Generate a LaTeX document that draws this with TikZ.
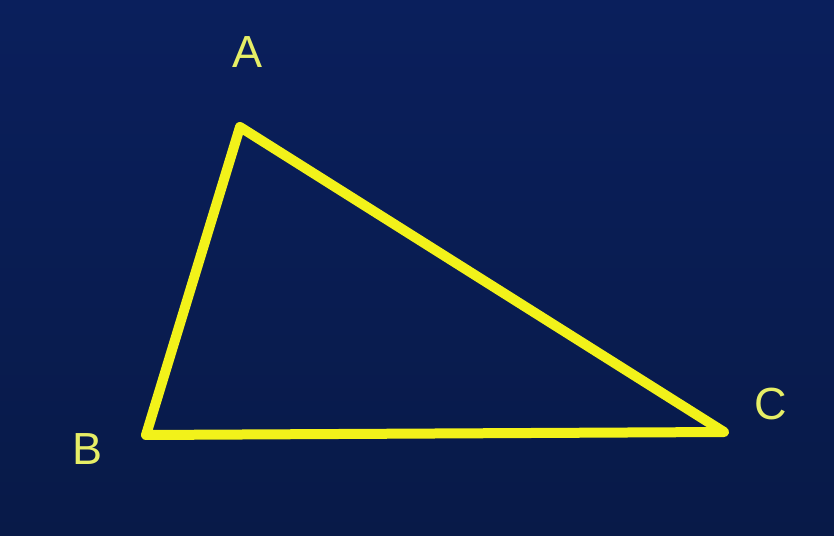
\documentclass[tikz,border=0pt]{standalone}
\usepackage{fontspec}
\setmainfont{Liberation Sans}
\usetikzlibrary{positioning}
\definecolor{bgtop}{HTML}{0A1F5C}
\definecolor{bgbot}{HTML}{081A48}
\definecolor{edgeY}{HTML}{F2F21A}
\definecolor{labelY}{HTML}{E6EE66}
\tikzset{
  vlabel/.style={font=\fontsize{45}{47}\selectfont, text=labelY, inner sep=0pt},
  side/.style={draw=edgeY, line width=10pt, line join=round, line cap=round}
}

\begin{document}
\begin{tikzpicture}[x=1pt,y=1pt]
\useasboundingbox (0,0) rectangle (834,535);
\shade[top color=bgtop, bottom color=bgbot] (0,0) rectangle (834,535);

\coordinate (A) at (240,408);
\coordinate (B) at (146,100);
\coordinate (C) at (724,103);

\draw[side] (A) -- (B) -- (C) -- cycle;

\node[vlabel] (labA) at (248,483) {A};
\node[vlabel] (labB) at (88,86) {B};
\node[vlabel] (labC) at (771,131) {C};

\end{tikzpicture}
\end{document}
